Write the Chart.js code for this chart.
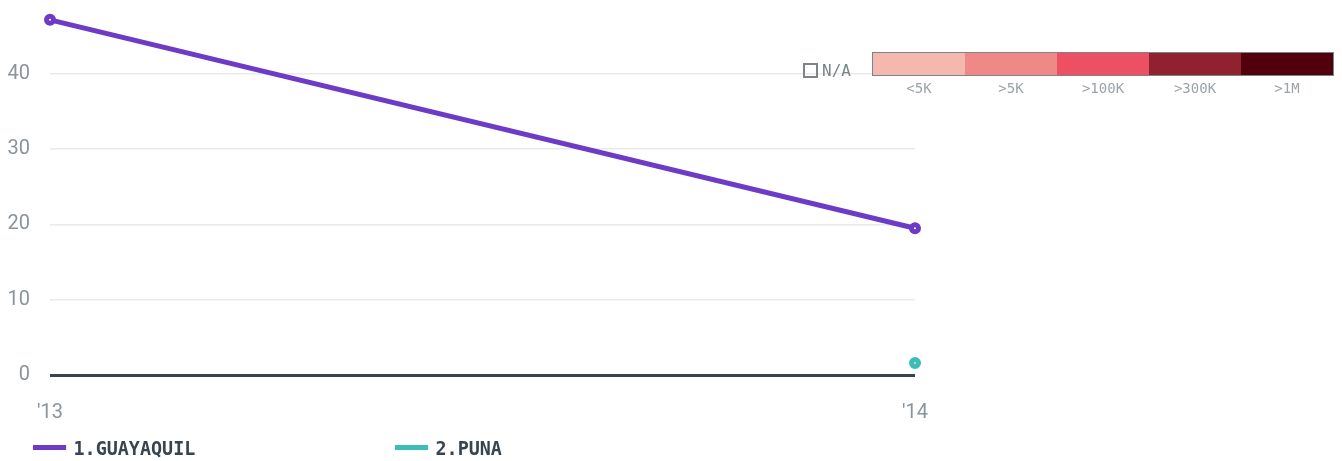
<!DOCTYPE html>
<html>
<head>
<meta charset="utf-8">
<script src="https://cdn.jsdelivr.net/npm/chart.js@4"></script>
<style>
body{margin:0;background:#fff;width:1342px;height:461px;overflow:hidden;position:relative;font-family:"DejaVu Sans Mono",monospace;}
#wrap{position:absolute;left:0;top:-31px;width:1342px;height:474px;}
.leg{position:absolute;top:436px;font-weight:bold;font-size:20px;color:#36454f;transform:scaleX(0.92);transform-origin:left;}
.leg span{display:inline-block;width:36px;height:5px;vertical-align:middle;margin-right:8px;position:relative;top:-2px;}
#scale{position:absolute;left:872px;top:52px;width:460px;height:22px;border:1px solid #7a858b;display:flex;}
#scale div{flex:1;}
.slab{position:absolute;top:80px;font-size:14px;color:#9aa3a8;width:92px;text-align:center;}
#na{position:absolute;left:803px;top:63px;width:11px;height:11px;border:2px solid #7a858b;}
#natxt{position:absolute;left:822px;top:61px;font-size:16px;color:#7a858b;}
</style>
</head>
<body>
<div id="wrap"><canvas id="c"></canvas></div>
<div id="na"></div><div id="natxt">N/A</div>
<div id="scale"></div>
<div class="leg" style="left:33px"><span style="background:#6e3bc7"></span>1.GUAYAQUIL</div>
<div class="leg" style="left:395px"><span style="background:#3dbdb6"></span>2.PUNA</div>
<script>

/* DATA */

const years=["'13","'14"];
const guayaquil=[47.2,19.5];
const puna=[null,1.6];

const scaleLabels=["<5K",">5K",">100K",">300K",">1M"];
const scaleColors=["#f5b8ae","#f08888","#ee5063","#922130","#52000b"];


/* COLOR SCALE LEGEND */

const scaleBox=document.getElementById("scale");
scaleColors.forEach(function(col,i){
const d=document.createElement("div");
d.style.background=col;
scaleBox.appendChild(d);
const l=document.createElement("div");
l.className="slab";
l.style.left=(873+i*92)+"px";
l.textContent=scaleLabels[i];
document.body.appendChild(l);
});


/* CHART */

Chart.defaults.font.family='"Roboto",sans-serif';

new Chart(document.getElementById("c"),{
type:'line',
data:{
labels:years,
datasets:[{
label:"1.GUAYAQUIL",
data:guayaquil,
borderColor:"#6e3bc7",
backgroundColor:"#ffffff",
borderWidth:5,
pointRadius:3.5,
pointBorderWidth:5,
pointBorderColor:"#6e3bc7",
pointBackgroundColor:"#ffffff",
tension:0,
clip:false
},{
label:"2.PUNA",
data:puna,
borderColor:"#3dbdb6",
backgroundColor:"#3dbdb6",
borderWidth:4,
pointRadius:3.5,
pointBorderWidth:5,
pointBorderColor:"#3dbdb6",
pointBackgroundColor:"#bfe8e5",
tension:0,
clip:false
}]
},
options:{
responsive:true,
maintainAspectRatio:false,
animation:false,
layout:{padding:{left:0,right:427,top:0,bottom:0}},
plugins:{legend:{display:false},tooltip:{enabled:false}},
scales:{
x:{
offset:false,
grid:{display:false},
border:{display:false},
ticks:{color:"#8a949a",font:{size:20},padding:18,maxRotation:0}
},
y:{
min:0,
max:49.7,
border:{display:false},
afterBuildTicks:function(ax){
ax.ticks=[0,10,20,30,40].map(function(v){return {value:v};});
},
afterFit:function(ax){ax.width=50;},
grid:{
drawTicks:false,
color:function(ctx){return ctx.tick&&ctx.tick.value===0?"#36454f":"#e8eaec";},
lineWidth:function(ctx){return ctx.tick&&ctx.tick.value===0?3:1.5;}
},
ticks:{color:"#8a949a",font:{size:20},padding:20}
}
}
}
});

</script>
</body>
</html>
